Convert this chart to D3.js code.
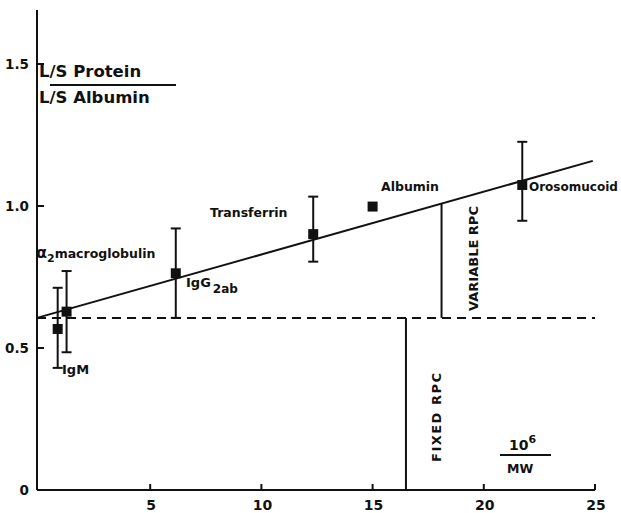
<!DOCTYPE html>
<html>
<head>
<meta charset="utf-8">
<script src="https://cdn.jsdelivr.net/npm/d3@7"></script>
<style>
  body { margin: 0; background: #fff; }
  svg text { font-family: "DejaVu Sans", sans-serif; font-weight: bold; fill: #111; }
</style>
</head>
<body>
<div id="chart"></div>
<script>
// proteins: x = 10^6 / MW, y = (L/S protein)/(L/S albumin)
const proteins = ['IgM', 'α2macroglobulin', 'IgG2ab', 'Transferrin', 'Albumin', 'Orosomucoid'];
const invMW = [0.84, 1.24, 6.15, 12.33, 15.0, 21.73];
const ratio = [0.567, 0.628, 0.763, 0.901, 0.998, 1.074];
const errHi = [0.712, 0.771, 0.921, 1.033, null, 1.226];
const errLo = [0.430, 0.485, 0.606, 0.804, null, 0.948];

const xTicks = [5, 10, 15, 20, 25];
const yTicks = [0, 0.5, 1.0, 1.5];
const yTickLabels = ['0', '0.5', '1.0', '1.5'];

// fitted line and reflection-coefficient markers
const fitIntercept = 0.606;
const fitSlope = 0.0222;
const fixedLevel = 0.606;
const fixedX = 16.5;
const variableX = 18.1;

const width = 621, height = 513;
const x = d3.scaleLinear().domain([0, 25]).range([39, 595]);
const y = d3.scaleLinear().domain([0, 1]).range([490, 206]);

const svg = d3.select('#chart').append('svg')
              .attr('width', width)
              .attr('height', height);

// axes
svg.append('line')
   .attr('x1', x(0) - 2).attr('x2', x(0) - 2)
   .attr('y1', y(0)).attr('y2', y(1.69))
   .attr('stroke', '#111').attr('stroke-width', 2);
svg.append('line')
   .attr('x1', x(0) - 2).attr('x2', x(25))
   .attr('y1', y(0)).attr('y2', y(0))
   .attr('stroke', '#111').attr('stroke-width', 2);

svg.selectAll('.xtick').data(xTicks).enter().append('line')
   .attr('x1', d => x(d)).attr('x2', d => x(d))
   .attr('y1', y(0)).attr('y2', y(0) - 6)
   .attr('stroke', '#111').attr('stroke-width', 2);
svg.selectAll('.xlab').data(xTicks).enter().append('text')
   .attr('x', d => x(d) + 1).attr('y', y(0) + 20)
   .attr('text-anchor', 'middle').style('font-size', '14px')
   .text(d => d);

svg.selectAll('.ytick').data(yTicks.slice(1)).enter().append('line')
   .attr('x1', x(0) - 2).attr('x2', x(0) + 5)
   .attr('y1', d => y(d)).attr('y2', d => y(d))
   .attr('stroke', '#111').attr('stroke-width', 2);
svg.selectAll('.ylab').data(yTicks).enter().append('text')
   .attr('x', x(0) - 10).attr('y', d => y(d) + 5)
   .attr('text-anchor', 'end').style('font-size', '13.5px')
   .text((d, i) => yTickLabels[i]);

// fixed RPC dashed level
svg.append('line')
   .attr('x1', x(0) - 2).attr('x2', x(25))
   .attr('y1', y(fixedLevel)).attr('y2', y(fixedLevel))
   .attr('stroke', '#111').attr('stroke-width', 2)
   .attr('stroke-dasharray', '9,6');

// regression line
svg.append('line')
   .attr('x1', x(0) - 2).attr('y1', y(fitIntercept))
   .attr('x2', x(24.9)).attr('y2', y(fitIntercept + fitSlope * 24.9))
   .attr('stroke', '#111').attr('stroke-width', 2);

// vertical markers
svg.append('line')
   .attr('x1', x(fixedX)).attr('x2', x(fixedX))
   .attr('y1', y(0)).attr('y2', y(fixedLevel))
   .attr('stroke', '#111').attr('stroke-width', 2);
svg.append('line')
   .attr('x1', x(variableX)).attr('x2', x(variableX))
   .attr('y1', y(fixedLevel)).attr('y2', y(fitIntercept + fitSlope * variableX))
   .attr('stroke', '#111').attr('stroke-width', 2);

// error bars
const idx = d3.range(proteins.length).filter(i => errHi[i] != null);
const eb = svg.append('g').attr('stroke', '#111').attr('stroke-width', 2);
idx.forEach(i => {
    const cx = x(invMW[i]);
    eb.append('line').attr('x1', cx).attr('x2', cx).attr('y1', y(errHi[i])).attr('y2', y(errLo[i]));
    eb.append('line').attr('x1', cx - 5).attr('x2', cx + 5).attr('y1', y(errHi[i])).attr('y2', y(errHi[i]));
    eb.append('line').attr('x1', cx - 5).attr('x2', cx + 5).attr('y1', y(errLo[i])).attr('y2', y(errLo[i]));
});

// points
svg.selectAll('.pt').data(proteins).enter().append('rect')
   .attr('x', (d, i) => x(invMW[i]) - 5)
   .attr('y', (d, i) => y(ratio[i]) - 5)
   .attr('width', 10).attr('height', 10)
   .attr('fill', '#111');

// labels
const lab = (tx, ty, s, size) => svg.append('text')
    .attr('x', tx).attr('y', ty).style('font-size', (size || 12.5) + 'px').text(s);

const a2 = lab(36, 258, 'α', 16);
a2.append('tspan').attr('dy', 4).style('font-size', '11px').text('2');
a2.append('tspan').attr('dy', -4).style('font-size', '12.5px').text('macroglobulin');
lab(62, 374, 'IgM', 13);
const igg = lab(186, 287, 'IgG', 13);
igg.append('tspan').attr('dy', 6).attr('dx', 2).style('font-size', '12px').text('2ab');
lab(210, 217, 'Transferrin');
lab(381, 191, 'Albumin');
lab(529, 191, 'Orosomucoid', 12);

// rotated labels
svg.append('text')
   .attr('transform', `translate(${x(variableX) + 36},${y(fixedLevel) - 7}) rotate(-90)`)
   .style('font-size', '13px').text('VARIABLE RPC');
svg.append('text')
   .attr('transform', `translate(${x(fixedX) + 35},${y(0) - 28}) rotate(-90)`)
   .style('font-size', '13px').style('letter-spacing', '1.5px').text('FIXED  RPC');

// y quantity fraction
lab(39, 77, 'L/S Protein', 16.5);
svg.append('line').attr('x1', 50).attr('x2', 176).attr('y1', 85).attr('y2', 85)
   .attr('stroke', '#111').attr('stroke-width', 2);
lab(39, 103, 'L/S Albumin', 16.5);

// x quantity fraction
const ten = svg.append('text').attr('x', 509).attr('y', 450).style('font-size', '14px').text('10');
ten.append('tspan').attr('dy', -7).style('font-size', '11px').text('6');
svg.append('line').attr('x1', 500).attr('x2', 551).attr('y1', 455).attr('y2', 455)
   .attr('stroke', '#111').attr('stroke-width', 2);
lab(507, 473, 'MW', 12.5);
</script>
</body>
</html>
